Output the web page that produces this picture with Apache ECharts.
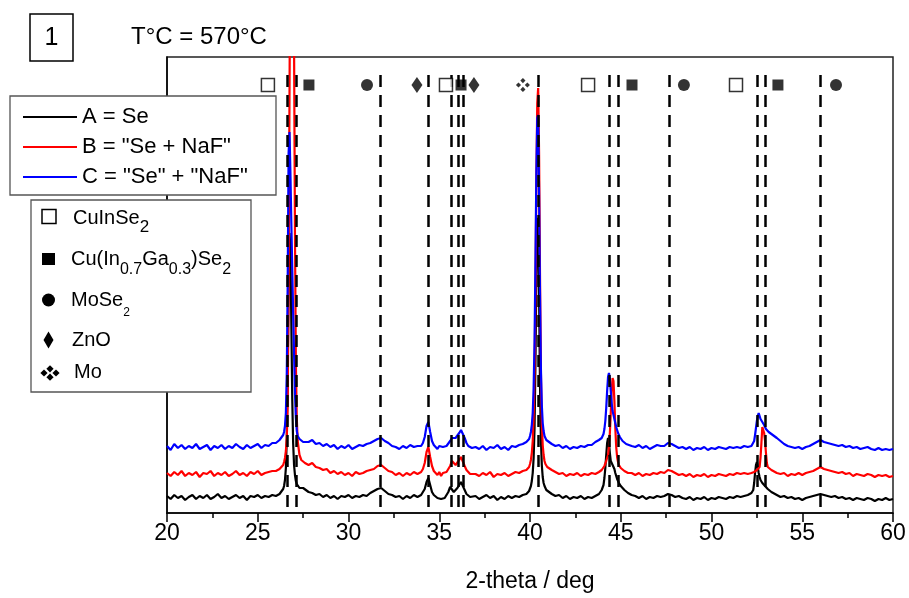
<!DOCTYPE html>
<html>
<head>
<meta charset="utf-8">
<script src="https://cdn.jsdelivr.net/npm/echarts@6/dist/echarts.min.js"></script>
<style>
html,body{margin:0;padding:0;background:#fff;}
#chart{width:909px;height:598px;}
</style>
</head>
<body>
<div id="chart"></div>
<script>
// ---------------- DATA ----------------
const twoTheta = [
  20.0,20.2,20.4,20.6,20.8,21.0,21.2,21.4,21.6,21.8,22.0,22.2,22.4,22.6,22.8,23.0,23.2,23.4,23.6,23.8,24.0,24.2,24.4,24.6,24.8,25.0,25.2,25.4,25.6,25.8,
  26.0,26.1,26.2,26.3,26.4,26.45,26.5,26.55,26.6,26.65,26.7,26.75,26.8,26.85,26.9,26.95,27.0,27.05,27.1,27.15,27.2,27.3,27.4,27.5,
  27.6,27.8,28.0,28.2,28.4,28.6,28.8,29.0,29.2,29.4,29.6,29.8,30.0,30.2,30.4,30.6,30.8,31.0,31.2,31.4,31.6,31.8,32.0,32.2,32.4,32.6,32.8,33.0,33.2,33.4,33.6,33.8,
  34.0,34.1,34.2,34.3,34.4,34.5,34.6,34.7,34.8,34.9,35.0,35.1,35.2,35.3,35.4,35.5,35.6,35.7,35.8,35.9,36.0,36.1,36.2,36.3,36.4,36.5,36.6,36.7,36.8,
  37.0,37.2,37.4,37.6,37.8,38.0,38.2,38.4,38.6,38.8,39.0,39.2,39.4,39.6,39.8,
  39.9,39.95,40.0,40.05,40.1,40.15,40.2,40.25,40.3,40.35,40.4,40.45,40.5,40.55,40.6,40.65,40.7,40.75,40.8,40.85,40.9,40.95,41.0,
  41.2,41.4,41.6,41.8,42.0,42.2,42.4,42.6,42.8,43.0,43.2,43.4,43.6,43.8,
  43.9,43.95,44.0,44.05,44.1,44.15,44.2,44.25,44.3,44.35,44.4,44.45,44.5,44.55,44.6,44.65,44.7,44.75,44.8,44.85,44.9,44.95,45.0,
  45.1,45.2,45.3,45.4,
  45.6,45.8,46.0,46.2,46.4,46.6,46.8,47.0,47.2,47.4,47.6,47.8,48.0,48.2,48.4,48.6,48.8,49.0,49.2,49.4,49.6,49.8,50.0,50.2,50.4,50.6,50.8,51.0,51.2,51.4,51.6,51.8,52.0,52.2,
  52.3,52.35,52.4,52.45,52.5,52.55,52.6,52.65,52.7,52.75,52.8,52.85,52.9,52.95,53.0,53.05,53.1,53.15,53.2,
  53.3,53.4,53.6,53.8,54.0,54.2,54.4,54.6,54.8,55.0,55.2,55.4,55.6,55.8,56.0,56.2,56.4,56.6,56.8,57.0,57.2,57.4,57.6,57.8,58.0,58.2,58.4,58.6,58.8,59.0,59.2,59.4,59.6,59.8,60.0
];

// A = Se (black)
const intensityA = [
  17,14,18,15,17,13,16,18,14,17,15,18,14,16,19,15,17,14,16,18,15,17,13,17,16,18,15,17,16,18,
  17,18,19,21,24,27,33,45,75,140,230,280,265,190,115,70,48,38,32,29,27,25,24,25,
  23,21,20,18,19,16,18,15,17,14,17,16,18,15,17,16,18,17,20,22,24,25,22,19,18,16,17,14,17,15,18,16,
  18,20,24,31,35,28,21,18,17,15,17,14,16,15,17,21,26,24,21,22,25,28,31,29,23,19,17,16,15,
  17,14,16,18,15,17,13,16,14,17,15,17,16,18,19,
  20,22,24,27,32,40,55,85,150,235,295,290,220,130,75,48,36,30,27,25,23,22,21,
  19,17,18,15,17,14,16,15,17,14,16,15,17,19,
  21,23,25,28,35,45,58,70,75,70,60,52,50,48,47,44,40,37,34,32,30,29,27,
  25,23,21,20,
  18,17,15,17,14,16,15,17,16,17,19,18,16,17,15,14,16,13,15,14,16,13,15,14,16,15,14,16,15,17,16,17,18,20,
  23,30,40,48,51,46,40,36,33,31,30,29,28,27,26,25,24,24,23,
  21,20,18,16,17,15,16,14,15,13,15,16,17,18,19,18,17,16,17,15,16,14,15,13,15,14,13,15,14,12,14,13,15,13,14
];

// B = "Se + NaF" (red)
const intensityB = [
  40,37,41,38,42,37,40,38,41,36,40,39,42,37,40,38,41,37,39,42,38,40,37,41,39,42,38,40,41,42,
  42,43,44,46,48,51,55,62,75,110,230,420,600,700,720,650,470,280,150,95,72,58,53,51,
  50,48,50,46,45,43,44,40,42,39,41,38,40,37,41,39,40,42,43,44,47,48,45,42,41,38,40,37,40,38,41,39,
  41,44,50,61,66,56,47,42,40,38,41,37,40,39,41,43,47,52,53,48,50,53,56,54,47,43,41,39,40,
  39,37,40,38,41,36,39,38,40,37,39,41,40,42,43,
  44,46,49,53,60,72,95,140,220,330,410,425,360,240,140,90,68,58,52,49,47,46,45,
  43,41,39,40,37,39,38,40,37,39,38,40,39,41,
  42,43,44,45,47,49,52,55,58,66,80,100,122,135,132,112,85,66,56,51,48,46,45,
  43,42,41,40,
  40,38,40,37,39,38,40,39,41,40,43,42,40,38,39,37,39,36,38,37,39,36,38,37,39,38,37,39,38,40,39,40,39,40,
  41,41,42,42,43,43,44,46,55,70,86,87,80,72,60,50,46,45,44,
  43,42,40,39,40,37,39,38,40,38,40,41,42,44,46,44,43,42,41,40,41,39,40,37,39,38,37,39,38,36,38,37,38,36,37
];

// C = "Se" + "NaF" (blue)
const intensityC = [
  67,63,69,65,68,64,67,65,69,64,66,68,63,67,65,68,64,67,65,69,66,64,68,65,67,69,65,68,67,70,
  70,71,73,75,78,81,87,100,140,230,360,381,340,290,245,200,160,120,95,82,77,74,72,71,
  70,71,73,69,70,67,69,66,68,64,67,65,68,64,66,68,67,69,70,72,74,75,72,70,67,66,64,67,65,68,66,67,
  67,70,76,87,91,81,72,68,66,64,67,65,66,64,67,68,72,75,74,75,77,80,83,82,75,70,67,66,65,
  66,64,67,63,66,65,68,64,66,63,67,66,68,69,71,
  72,74,77,81,88,100,125,170,250,340,395,398,320,220,145,108,90,82,77,75,73,72,71,
  69,67,68,65,67,64,66,65,67,66,68,68,71,73,
  74,75,77,79,84,92,105,122,136,140,134,122,110,102,98,94,90,86,83,80,78,76,74,
  72,70,69,68,
  67,66,68,65,67,64,66,68,67,67,70,69,67,65,66,64,66,63,65,64,66,63,65,64,66,65,64,66,65,66,65,67,66,67,
  67,72,78,85,92,97,100,98,94,92,91,90,88,86,84,83,82,81,80,
  79,77,75,72,69,67,66,65,66,64,66,67,69,71,73,71,70,69,68,67,68,66,67,65,66,64,65,66,64,63,65,63,64,63,64
];

const seriesNames = ['A = Se', 'B = "Se + NaF"', 'C = "Se" + "NaF"'];
const seriesColors = ['#000000', '#ff0000', '#0000ff'];

// reference reflection positions (2-theta, deg) drawn as dashed lines
const referenceLines = [26.64, 27.14, 31.74, 34.40, 35.68, 36.05, 36.33, 40.45, 44.37, 44.87, 47.66, 52.52, 52.98, 56.00];

// phase markers above the patterns
const markerPositions = [25.56, 27.82, 31.02, 33.77, 35.37, 36.20, 36.91, 39.61, 43.20, 45.62, 48.48, 51.35, 53.66, 56.86];
const markerPhases = ['CuInSe2','CIGS','MoSe2','ZnO','CuInSe2','CIGS','ZnO','Mo','CuInSe2','CIGS','MoSe2','CuInSe2','CIGS','MoSe2'];

const xMin = 20, xMax = 60, xStep = 5;
const MARKER_LEVEL = 428;   // intensity level of the phase symbols
const LINE_TOP = 438;       // intensity level where dashed lines start
const Y_MAX = 456;

// ---------------- STYLE ----------------
const FONT = '"Liberation Sans", Arial, Helvetica, sans-serif';
const MO_PATH = 'path://M15 0L20.5 5.5L15 11L9.5 5.5Z M24.5 9.5L30 15L24.5 20.5L19 15Z M15 19L20.5 24.5L15 30L9.5 24.5Z M5.5 9.5L11 15L5.5 20.5L0 15Z';
const phaseStyle = {
  CuInSe2: {symbol: 'rect', symbolSize: 13, itemStyle: {color: '#fff', borderColor: '#000', borderWidth: 1.5}},
  CIGS:    {symbol: 'rect', symbolSize: 11, itemStyle: {color: '#000'}},
  MoSe2:   {symbol: 'circle', symbolSize: 12, itemStyle: {color: '#000'}},
  ZnO:     {symbol: 'diamond', symbolSize: [11, 16], itemStyle: {color: '#000'}},
  Mo:      {symbol: MO_PATH, symbolSize: 14, itemStyle: {color: '#000'}}
};

const seriesData = [intensityA, intensityB, intensityC].map(arr => twoTheta.map((x, i) => [x, arr[i]]));

const lineSeries = seriesData.map((d, k) => ({
  name: seriesNames[k],
  type: 'line',
  data: d,
  symbol: 'none',
  showSymbol: false,
  smooth: false,
  lineStyle: {color: seriesColors[k], width: 2.2},
  itemStyle: {color: seriesColors[k]},
  z: 2 + k,
  animation: false,
  clip: true
}));

const markerSeries = {
  name: 'phases',
  type: 'scatter',
  z: 6,
  animation: false,
  silent: true,
  data: markerPositions.map((x, i) => Object.assign({value: [x, MARKER_LEVEL]}, phaseStyle[markerPhases[i]])),
  markLine: {
    silent: true,
    animation: false,
    symbol: ['none', 'none'],
    label: {show: false},
    lineStyle: {color: '#000', width: 2.5, type: [12, 8]},
    emphasis: {disabled: true},
    data: referenceLines.map(x => [{coord: [x, LINE_TOP]}, {coord: [x, 0]}])
  }
};

function diamond(cx, cy, hw, hh) {
  return {type: 'polygon', z: 12, shape: {points: [[cx, cy - hh], [cx + hw, cy], [cx, cy + hh], [cx - hw, cy]]}, style: {fill: '#000'}};
}
const rich = {
  n:  {fontSize: 20, fontFamily: FONT, fill: '#000'},
  s:  {fontSize: 17, fontFamily: FONT, fill: '#000', padding: [18, 0, 0, 0]},
  s2: {fontSize: 16, fontFamily: FONT, fill: '#000', padding: [20, 0, 0, 0]},
  ss: {fontSize: 12, fontFamily: FONT, fill: '#000', padding: [26, 0, 0, 0]}
};
function richText(x, yCenter, text) {
  return {type: 'text', z: 12, x: x, y: yCenter,
    style: {text: text, rich: rich, fill: '#000', fontSize: 20, fontFamily: FONT, align: 'left', verticalAlign: 'middle'}};
}

const graphics = [
  // panel number box
  {type: 'rect', z: 12, shape: {x: 30, y: 14, width: 43, height: 47}, style: {fill: '#fff', stroke: '#000', lineWidth: 1.5}},
  {type: 'text', z: 13, x: 51.5, y: 38, style: {text: '1', fontSize: 25, fontFamily: FONT, fill: '#000', align: 'center', verticalAlign: 'middle'}},
  {type: 'text', z: 13, x: 131, y: 37, style: {text: 'T°C = 570°C', fontSize: 24, fontFamily: FONT, fill: '#000', align: 'left', verticalAlign: 'middle'}},
  // series legend frame
  {type: 'rect', z: 10, shape: {x: 10, y: 96, width: 266, height: 99}, style: {fill: '#fff', stroke: '#555', lineWidth: 1.3}},
  // phase legend frame
  {type: 'rect', z: 10, shape: {x: 31, y: 200, width: 220, height: 192}, style: {fill: '#fff', stroke: '#555', lineWidth: 1.3}},
  {type: 'rect', z: 12, shape: {x: 42, y: 209.5, width: 14, height: 14}, style: {fill: '#fff', stroke: '#000', lineWidth: 1.5}},
  {type: 'rect', z: 12, shape: {x: 42, y: 253, width: 13, height: 12}, style: {fill: '#000'}},
  {type: 'circle', z: 12, shape: {cx: 48.5, cy: 300, r: 6.5}, style: {fill: '#000'}},
  diamond(48.5, 340, 5, 8.5),
  diamond(50, 368.8, 3.6, 3.6), diamond(56, 373, 3.6, 3.6), diamond(50, 377.2, 3.6, 3.6), diamond(44, 373, 3.6, 3.6),
  richText(73, 218.5, '{n|CuInSe}{s|2}'),
  richText(71, 259.5, '{n|Cu(In}{s2|0.7}{n|Ga}{s2|0.3}{n|)Se}{s2|2}'),
  richText(71, 300, '{n|MoSe}{ss|2}'),
  richText(72, 340.5, '{n|ZnO}'),
  richText(74, 372.5, '{n|Mo}')
];

const option = {
  animation: false,
  backgroundColor: '#fff',
  grid: {left: 167, right: 16, top: 57, bottom: 85, show: true, borderColor: '#222', borderWidth: 1.5, backgroundColor: 'transparent'},
  legend: {
    data: seriesNames,
    orient: 'vertical',
    left: 23, top: 106,
    padding: 0,
    itemGap: 8,
    itemWidth: 54, itemHeight: 2,
    icon: 'rect',
    selectedMode: false,
    z: 20,
    textStyle: {fontSize: 22, lineHeight: 21, color: '#000', fontFamily: FONT}
  },
  xAxis: {
    type: 'value', min: xMin, max: xMax, interval: xStep,
    name: '2-theta / deg', nameLocation: 'middle', nameGap: 57,
    nameTextStyle: {fontSize: 23, color: '#000', fontFamily: FONT},
    axisLine: {lineStyle: {color: '#000', width: 1.5}},
    axisTick: {show: true, inside: false, length: 9, lineStyle: {color: '#000', width: 1.5}},
    minorTick: {show: true, splitNumber: 2, length: 5, lineStyle: {color: '#000', width: 1.5}},
    axisLabel: {fontSize: 23, color: '#000', margin: 9, fontFamily: FONT},
    splitLine: {show: false}
  },
  yAxis: {
    type: 'value', min: 0, max: Y_MAX,
    axisLine: {show: true, lineStyle: {color: '#000', width: 1.5}},
    axisTick: {show: false}, axisLabel: {show: false}, splitLine: {show: false}
  },
  graphic: graphics,
  series: lineSeries.concat([markerSeries])
};

const chart = echarts.init(document.getElementById('chart'), null, {renderer: 'canvas'});
chart.setOption(option);
</script>
</body>
</html>
